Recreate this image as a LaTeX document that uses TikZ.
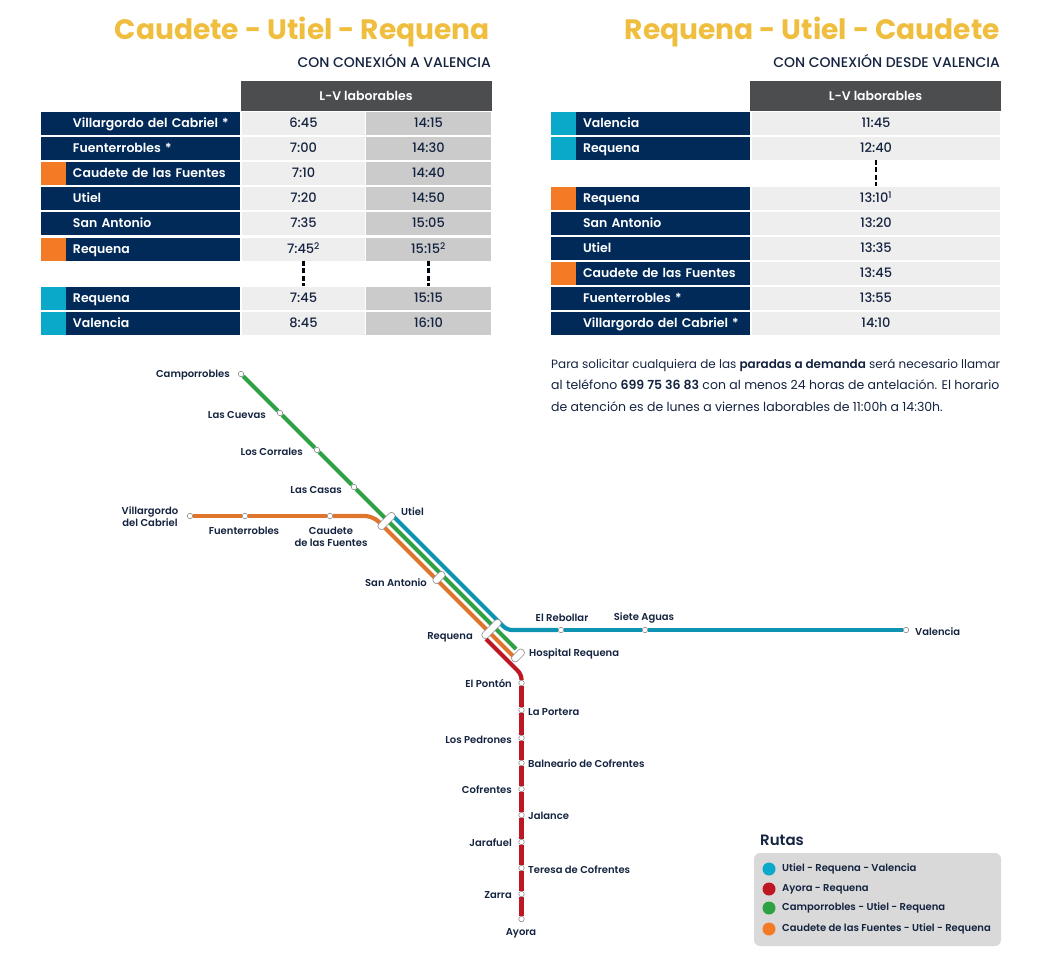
\documentclass[tikz,border=0pt]{standalone}
\usepackage{fontspec}
\setmainfont{Poppins}[BoldFont={Poppins SemiBold}]
\newfontfamily\heavyfont{Poppins}[BoldFont={Poppins Bold}]
\newfontfamily\mediumfont{Poppins Medium}
\definecolor{navy}{HTML}{012A58}
\definecolor{inkblue}{HTML}{14233F}
\definecolor{titleyellow}{HTML}{EFBE3F}
\definecolor{headgray}{HTML}{4B4D4F}
\definecolor{celllight}{HTML}{EFEEEE}
\definecolor{celldark}{HTML}{CBCBCB}
\definecolor{swatchorange}{HTML}{F37B25}
\definecolor{swatchteal}{HTML}{0BA9C9}
\definecolor{lineblue}{HTML}{0E93B2}
\definecolor{linegreen}{HTML}{2DA143}
\definecolor{lineorange}{HTML}{E0752D}
\definecolor{linered}{HTML}{BE1622}
\definecolor{legendgray}{HTML}{D9D9D9}
\tikzset{
  titletext/.style={anchor=east, inner sep=0pt, text=titleyellow, font=\heavyfont\fontsize{28.1}{30}\selectfont\bfseries},
  subtext/.style={anchor=east, inner sep=0pt, text=inkblue, font=\mediumfont\fontsize{14}{16}\selectfont},
  headcell/.style={fill=headgray, draw=black!70, text=white, minimum height=29pt, inner sep=0pt, font=\fontsize{12.5}{14}\selectfont\bfseries},
  namebar/.style={fill=navy, text=white, minimum height=23pt, text width=199pt, text height=10.5pt, text depth=1.5pt, inner sep=0pt, align=left,
    font=\fontsize{12.5}{14}\selectfont\bfseries, execute at begin node={\hspace*{32pt}}},
  swatch/.style={minimum width=25pt, minimum height=23pt, inner sep=0pt},
  timecell/.style={minimum height=23pt, text height=11pt, text depth=2pt, inner sep=0pt, text=inkblue, font=\mediumfont\fontsize{13}{15}\selectfont},
  lightcell/.style={timecell, fill=celllight},
  darkcell/.style={timecell, fill=celldark},
  waitline/.style={line width=2.6pt, dash pattern=on 5pt off 2.5pt, black!85!navy},
  stop/.style={circle, draw=black!45, fill=white, line width=0.6pt, minimum size=5.5pt, inner sep=0pt},
  stopbar/.style={draw=black!45, fill=white, line width=0.6pt, rounded corners=3pt, minimum height=7pt, inner sep=0pt, rotate=45},
  route/.style={line width=4.2pt, rounded corners=5pt},
  place/.style={inner sep=0pt, yshift=-0.8pt, text=inkblue, font=\fontsize{10}{11.5}\selectfont\bfseries, align=center},
  legenddot/.style={circle, minimum size=13pt, inner sep=0pt},
  legendtext/.style={anchor=west, inner sep=0pt, text height=8pt, text depth=2.5pt, text=inkblue, font=\fontsize{10}{12}\selectfont\bfseries},
}
\begin{document}
\begin{tikzpicture}[x=1pt,y=-1pt]
    \useasboundingbox (0,0) rectangle (1063,958);

    \node[titletext] (titleleft) at (490,31.5) {Caudete - Utiel - Requena};
    \node[subtext] (subleft) at (491,60.5) {CON CONEXIÓN A VALENCIA};
    \node[titletext] (titleright) at (1000,31.5) {Requena - Utiel - Caudete};
    \node[subtext] (subright) at (1000,60.5) {CON CONEXIÓN DESDE VALENCIA};

    % left table
    \node[headcell, minimum width=250pt] (headleft) at (366,95.5) {L-V laborables};

    \node[namebar] (la) at (140.5,123) {Villargordo del Cabriel *};
    \node[namebar] (lb) at (140.5,148) {Fuenterrobles *};
    \node[namebar] (lc) at (140.5,173) {Caudete de las Fuentes};
    \node[namebar] (ld) at (140.5,198) {Utiel};
    \node[namebar] (le) at (140.5,223) {San Antonio};
    \node[namebar] (lf) at (140.5,249) {Requena};
    \node[namebar] (lg) at (140.5,298) {Requena};
    \node[namebar] (lh) at (140.5,323) {Valencia};

    \node[swatch, fill=swatchorange] (lcswatch) at (53.5,173) {};
    \node[swatch, fill=swatchorange] (lfswatch) at (53.5,249) {};
    \node[swatch, fill=swatchteal] (lgswatch) at (53.5,298) {};
    \node[swatch, fill=swatchteal] (lhswatch) at (53.5,323) {};

    \node[lightcell, minimum width=123pt] (la1) at (303.5,123) {6:45};
    \node[lightcell, minimum width=123pt] (lb1) at (303.5,148) {7:00};
    \node[lightcell, minimum width=123pt] (lc1) at (303.5,173) {7:10};
    \node[lightcell, minimum width=123pt] (ld1) at (303.5,198) {7:20};
    \node[lightcell, minimum width=123pt] (le1) at (303.5,223) {7:35};
    \node[lightcell, minimum width=123pt] (lf1) at (303.5,249) {7:45\textsuperscript{2}};
    \node[lightcell, minimum width=123pt] (lg1) at (303.5,298) {7:45};
    \node[lightcell, minimum width=123pt] (lh1) at (303.5,323) {8:45};

    \node[darkcell, minimum width=125pt] (la2) at (428.5,123) {14:15};
    \node[darkcell, minimum width=125pt] (lb2) at (428.5,148) {14:30};
    \node[darkcell, minimum width=125pt] (lc2) at (428.5,173) {14:40};
    \node[darkcell, minimum width=125pt] (ld2) at (428.5,198) {14:50};
    \node[darkcell, minimum width=125pt] (le2) at (428.5,223) {15:05};
    \node[darkcell, minimum width=125pt] (lf2) at (428.5,249) {15:15\textsuperscript{2}};
    \node[darkcell, minimum width=125pt] (lg2) at (428.5,298) {15:15};
    \node[darkcell, minimum width=125pt] (lh2) at (428.5,323) {16:10};

    \draw[waitline] (lf1.south) -- (lg1.north);
    \draw[waitline] (lf2.south) -- (lg2.north);

    % right table
    \node[headcell, minimum width=250pt] (headright) at (875.5,95.5) {L-V laborables};

    \node[namebar] (ra) at (650.5,123) {Valencia};
    \node[namebar] (rb) at (650.5,148) {Requena};
    \node[namebar] (rc) at (650.5,198) {Requena};
    \node[namebar] (rd) at (650.5,223) {San Antonio};
    \node[namebar] (re) at (650.5,248) {Utiel};
    \node[namebar] (rf) at (650.5,273) {Caudete de las Fuentes};
    \node[namebar] (rg) at (650.5,298) {Fuenterrobles *};
    \node[namebar] (rh) at (650.5,323) {Villargordo del Cabriel *};

    \node[swatch, fill=swatchteal] (raswatch) at (563.5,123) {};
    \node[swatch, fill=swatchteal] (rbswatch) at (563.5,148) {};
    \node[swatch, fill=swatchorange] (rcswatch) at (563.5,198) {};
    \node[swatch, fill=swatchorange] (rfswatch) at (563.5,273) {};

    \node[lightcell, minimum width=248pt] (ra1) at (876,123) {11:45};
    \node[lightcell, minimum width=248pt] (rb1) at (876,148) {12:40};
    \node[lightcell, minimum width=248pt] (rc1) at (876,198) {13:10\textsuperscript{1}};
    \node[lightcell, minimum width=248pt] (rd1) at (876,223) {13:20};
    \node[lightcell, minimum width=248pt] (re1) at (876,248) {13:35};
    \node[lightcell, minimum width=248pt] (rf1) at (876,273) {13:45};
    \node[lightcell, minimum width=248pt] (rg1) at (876,298) {13:55};
    \node[lightcell, minimum width=248pt] (rh1) at (876,323) {14:10};

    \draw[waitline] (rb1.south) -- (rc1.north);

    \node[anchor=north west, inner sep=0pt, text=inkblue, align=left, font=\fontsize{12.5}{21.5}\selectfont] (note) at (551,358.5)
        {{\fontsize{12}{21.5}\selectfont Para solicitar cualquiera de las \textbf{paradas a demanda} será necesario llamar}\\
         al teléfono \textbf{699 75 36 83} con al menos 24 horas de antelación. El horario\\
         de atención es de lunes a viernes laborables de 11:00h a 14:30h.};

    % stops
    \node[stop] (camporrobles) at (241,374) {};
    \node[stop] (lascuevas) at (280,413) {};
    \node[stop] (loscorrales) at (317,450) {};
    \node[stop] (lascasas) at (354,487) {};
    \node[stop] (villargordo) at (190,516) {};
    \node[stop] (fuenterrobles) at (245,516) {};
    \node[stop] (caudete) at (330,516) {};
    \node[stop] (rebollar) at (561,630) {};
    \node[stop] (sieteaguas) at (645,630) {};
    \node[stop] (valencia) at (906,630) {};
    \node[stop] (ponton) at (521.5,683) {};
    \node[stop] (portera) at (521.5,710) {};
    \node[stop] (pedrones) at (521.5,738) {};
    \node[stop] (balneario) at (521.5,763) {};
    \node[stop] (cofrentes) at (521.5,789) {};
    \node[stop] (jalance) at (521.5,815) {};
    \node[stop] (jarafuel) at (521.5,842) {};
    \node[stop] (teresa) at (521.5,868) {};
    \node[stop] (zarra) at (521.5,894) {};
    \node[stop] (ayora) at (521.5,919) {};

    \coordinate (greenend) at (516,649);
    \coordinate (orangebend) at (373,516);
    \coordinate (orangeend) at (514,657);
    \coordinate (bluestart) at (393,516);
    \coordinate (bluebend) at (507,630);
    \coordinate (redstart) at (486,639);
    \coordinate (redbend) at (521.5,674.5);

    % routes
    \draw[route, lineblue] (bluestart) -- (bluebend) -- (rebollar);
    \draw[route, lineblue] (rebollar) -- (sieteaguas) -- (valencia);
    \draw[route, linegreen] (camporrobles) -- (lascuevas) -- (loscorrales) -- (lascasas) -- (greenend);
    \draw[route, lineorange] (villargordo) -- (fuenterrobles) -- (caudete);
    \draw[route, lineorange, rounded corners=8pt] (caudete) -- (orangebend) -- (orangeend);
    \draw[route, linered] (redstart) -- (redbend) -- (ponton);
    \draw[route, linered] (ponton) -- (portera) -- (pedrones) -- (balneario) -- (cofrentes) -- (jalance) -- (jarafuel) -- (teresa) -- (zarra) -- (ayora);

    \node[stopbar, minimum width=21pt] (utiel) at (386.5,521) {};
    \node[stopbar, minimum width=14pt] (sanantonio) at (439,577.5) {};
    \node[stopbar, minimum width=24pt] (requena) at (491.5,629) {};
    \node[stopbar, minimum width=15pt] (hospital) at (518,655.5) {};

    % labels
    \node[place, anchor=east] (lblcamporrobles) at (230,374) {Camporrobles};
    \node[place, anchor=east] (lbllascuevas) at (266,414) {Las Cuevas};
    \node[place, anchor=east] (lblloscorrales) at (303,451) {Los Corrales};
    \node[place, anchor=east] (lbllascasas) at (342,489) {Las Casas};
    \node[place] (lblvillargordo) at (150,516) {Villargordo\\del Cabriel};
    \node[place] (lblfuenterrobles) at (244,530) {Fuenterrobles};
    \node[place] (lblcaudete) at (331,536) {Caudete\\de las Fuentes};
    \node[place, anchor=west] (lblutiel) at (401,511) {Utiel};
    \node[place, anchor=east] (lblsanantonio) at (427,582) {San Antonio};
    \node[place, anchor=east] (lblrequena) at (473,637) {Requena};
    \node[place, anchor=west] (lblhospital) at (529,653) {Hospital Requena};
    \node[place] (lblrebollar) at (562,617) {El Rebollar};
    \node[place] (lblsieteaguas) at (644,617) {Siete Aguas};
    \node[place, anchor=west] (lblvalencia) at (915,631) {Valencia};
    \node[place, anchor=east] (lblponton) at (512,683) {El Pontón};
    \node[place, anchor=west] (lblportera) at (528,711) {La Portera};
    \node[place, anchor=east] (lblpedrones) at (512,739) {Los Pedrones};
    \node[place, anchor=west] (lblbalneario) at (528,763) {Balneario de Cofrentes};
    \node[place, anchor=east] (lblcofrentes) at (512,789) {Cofrentes};
    \node[place, anchor=west] (lbljalance) at (528,815) {Jalance};
    \node[place, anchor=east] (lbljarafuel) at (512,842) {Jarafuel};
    \node[place, anchor=west] (lblteresa) at (528,869) {Teresa de Cofrentes};
    \node[place, anchor=east] (lblzarra) at (512,894) {Zarra};
    \node[place] (lblayora) at (521,933) {Ayora};

    % legend
    \node[anchor=west, inner sep=0pt, text=inkblue, font=\fontsize{15}{17}\selectfont\bfseries] (rutas) at (760,840) {Rutas};
    \node[fill=legendgray, rounded corners=6pt, minimum width=247pt, minimum height=93pt, inner sep=0pt] (legendbox) at (877.5,899.5) {};
    \node[legenddot, fill=swatchteal] (dotblue) at (769,869) {};
    \node[legenddot, fill=linered] (dotred) at (769,889) {};
    \node[legenddot, fill=linegreen] (dotgreen) at (769,908) {};
    \node[legenddot, fill=swatchorange] (dotorange) at (769,929) {};
    \node[legendtext] (txtblue) at (782,869) {Utiel - Requena - Valencia};
    \node[legendtext] (txtred) at (782,889) {Ayora - Requena};
    \node[legendtext] (txtgreen) at (782,908) {Camporrobles - Utiel - Requena};
    \node[legendtext] (txtorange) at (782,929) {Caudete de las Fuentes - Utiel - Requena};

\end{tikzpicture}
\end{document}
